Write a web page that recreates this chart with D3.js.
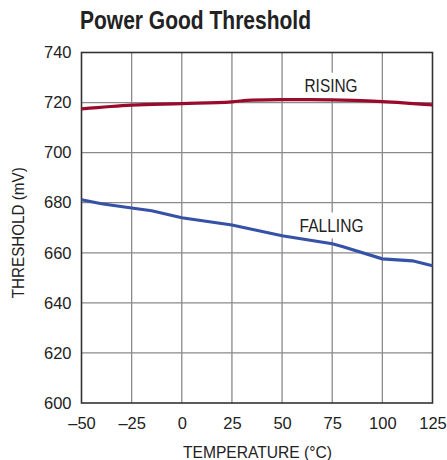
<!DOCTYPE html>
<html>
<head>
<meta charset="utf-8">
<script src="https://cdn.jsdelivr.net/npm/d3@7"></script>
<style>
  body { margin: 0; background: #fff; }
  svg { display: block; }
</style>
</head>
<body>
<svg width="447" height="460"></svg>
<script>
// data
var xTicks = [-50, -25, 0, 25, 50, 75, 100, 125];
var yTicks = [600, 620, 640, 660, 680, 700, 720, 740];

var risingTemp = [-50, -25, 0, 25, 35, 50, 75, 100, 125];
var risingMv = [717.5, 719, 719.6, 720.3, 721, 721.2, 721.1, 720.4, 719.1];

var fallingTemp = [-50, -40, -25, -15, 0, 25, 50, 75, 80, 100, 115, 125];
var fallingMv = [681.2, 679.6, 677.9, 676.8, 674, 671.1, 666.8, 663.6, 662.5, 657.6, 656.8, 654.8];

var svg = d3.select("svg");
var plotL = 81.5, plotR = 432.5, plotT = 52.5, plotB = 403;
var FONT = "'Liberation Sans', Arial, sans-serif";

var x = d3.scaleLinear().domain([-50, 125]).range([plotL, plotR]);
var y = d3.scaleLinear().domain([600, 740]).range([plotB, plotT]);

// title
svg.append("text")
  .attr("x", 80).attr("y", 29)
  .attr("textLength", 231).attr("lengthAdjust", "spacingAndGlyphs")
  .style("font-family", FONT)
  .style("font-weight", "bold")
  .style("font-size", "25.5px")
  .attr("fill", "#222")
  .text("Power Good Threshold");

// grid
var grid = svg.append("g");
grid.selectAll("line.v")
  .data(xTicks.slice(1, -1))
  .enter().append("line")
  .attr("x1", function(d) { return x(d); })
  .attr("x2", function(d) { return x(d); })
  .attr("y1", plotT).attr("y2", plotB)
  .attr("stroke", "#8a8a8a").attr("stroke-width", 1.3);
grid.selectAll("line.h")
  .data(yTicks.slice(1, -1))
  .enter().append("line")
  .attr("y1", function(d) { return y(d); })
  .attr("y2", function(d) { return y(d); })
  .attr("x1", plotL).attr("x2", plotR)
  .attr("stroke", "#8a8a8a").attr("stroke-width", 1.3);

// frame
svg.append("rect")
  .attr("x", plotL).attr("y", plotT)
  .attr("width", plotR - plotL).attr("height", plotB - plotT)
  .attr("fill", "none").attr("stroke", "#333").attr("stroke-width", 1.6);

// axes (labels only)
var xAxis = svg.append("g")
  .attr("transform", "translate(0," + plotB + ")")
  .call(d3.axisBottom(x).tickValues(xTicks).tickSize(0).tickPadding(14)
    .tickFormat(function(d) { return d < 0 ? "\u2013" + (-d) : d; }));
var yAxis = svg.append("g")
  .attr("transform", "translate(" + plotL + ",0)")
  .call(d3.axisLeft(y).tickValues(yTicks).tickSize(0).tickPadding(10));
[xAxis, yAxis].forEach(function(a) {
  a.select(".domain").remove();
  a.selectAll("text")
    .style("font-family", FONT)
    .style("font-size", "16.5px")
    .attr("fill", "#222");
});

// axis titles
svg.append("text")
  .attr("x", (plotL + plotR) / 2 + 0.5).attr("y", 457.5)
  .attr("text-anchor", "middle")
  .attr("textLength", 149).attr("lengthAdjust", "spacingAndGlyphs")
  .style("font-family", FONT)
  .style("font-size", "17px")
  .attr("fill", "#222")
  .text("TEMPERATURE (\u00B0C)");
svg.append("text")
  .attr("transform", "translate(23.5," + ((plotT + plotB) / 2 + 5) + ") rotate(-90)")
  .attr("text-anchor", "middle")
  .attr("textLength", 131).attr("lengthAdjust", "spacingAndGlyphs")
  .style("font-family", FONT)
  .style("font-size", "16.5px")
  .attr("fill", "#222")
  .text("THRESHOLD (mV)");

// series labels with white backing
function seriesLabel(txt, cx, baseline, len) {
  var g = svg.append("g");
  var bg = g.append("rect").attr("fill", "#fff");
  var t = g.append("text")
    .attr("x", cx).attr("y", baseline)
    .attr("text-anchor", "middle")
    .attr("textLength", len).attr("lengthAdjust", "spacingAndGlyphs")
    .style("font-family", FONT)
    .style("font-size", "18.5px")
    .attr("fill", "#222")
    .text(txt);
  var b = t.node().getBBox();
  bg.attr("x", b.x - 3).attr("y", b.y - 2)
    .attr("width", b.width + 6).attr("height", b.height + 5);
}
seriesLabel("RISING", 331, 91.7, 53);
seriesLabel("FALLING", 331.5, 231.5, 64);

// curves
var line = d3.line()
  .x(function(d) { return x(d[0]); })
  .y(function(d) { return y(d[1]); });

svg.append("path")
  .datum(d3.zip(risingTemp, risingMv))
  .attr("d", line.curve(d3.curveMonotoneX))
  .attr("fill", "none").attr("stroke", "#990a2c").attr("stroke-width", 3.2);

svg.append("path")
  .datum(d3.zip(fallingTemp, fallingMv))
  .attr("d", line.curve(d3.curveLinear))
  .attr("fill", "none").attr("stroke", "#3552a6").attr("stroke-width", 3.2);
</script>
</body>
</html>
